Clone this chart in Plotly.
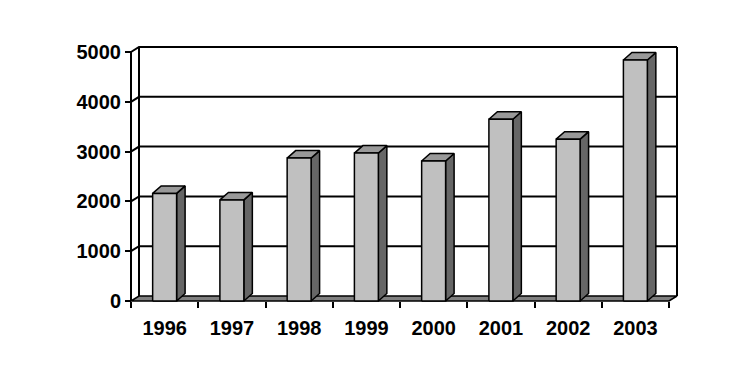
import plotly.graph_objects as go

# ---- data ----
years = ["1996", "1997", "1998", "1999", "2000", "2001", "2002", "2003"]
values = [2160, 2030, 2870, 2970, 2810, 3650, 3250, 4840]
y_ticks = [0, 1000, 2000, 3000, 4000, 5000]

# ---- geometry (in axis units) ----
n = len(years)
PX_X = 67.25          # px per category
PX_Y = 0.0498         # px per value unit
xmin, xmax = -6 / PX_X, (684 - 131) / PX_X
ymin, ymax = -4 / PX_Y, (301 - 40) / PX_Y

dxw, dyw = 8 / PX_X, 5 / PX_Y        # wall/floor depth
dxb, dyb = 8.5 / PX_X, 7.5 / PX_Y    # bar depth
hw = 0.178                            # half width of bar front
top_v = y_ticks[-1]

fig = go.Figure()

# back wall + side wall lines
wx, wy = [], []
for v in y_ticks[1:]:
    wx += [0, dxw, n + dxw, None]
    wy += [v, v + dyw, v + dyw, None]
wx += [dxw, dxw, None, n + dxw, n + dxw, None]
wy += [dyw, top_v + dyw, None, dyw, top_v + dyw, None]
fig.add_trace(go.Scatter(x=wx, y=wy, mode="lines",
                         line=dict(color="black", width=2), hoverinfo="skip"))

# floor
fig.add_trace(go.Scatter(x=[0, n, n + dxw, dxw, 0], y=[0, 0, dyw, dyw, 0],
                         mode="lines", fill="toself", fillcolor="#808080",
                         line=dict(color="black", width=1.5), hoverinfo="skip"))

# front axis line
fig.add_trace(go.Scatter(x=[0, 0], y=[0, top_v], mode="lines",
                         line=dict(color="black", width=2), hoverinfo="skip"))

# bars
sx, sy, tx, ty, fx, fy = [], [], [], [], [], []
for i, v in enumerate(values):
    c = i + 0.5
    l, r = c - hw, c + hw
    sx += [r, r, r + dxb, r + dxb, r, None]
    sy += [0, v, v + dyb, dyb, 0, None]
    tx += [l, r, r + dxb, l + dxb, l, None]
    ty += [v, v, v + dyb, v + dyb, v, None]
    fx += [l, r, r, l, l, None]
    fy += [0, 0, v, v, 0, None]
for xs, ys, col in [(sx, sy, "#666666"), (tx, ty, "#999999"), (fx, fy, "#c0c0c0")]:
    fig.add_trace(go.Scatter(x=xs, y=ys, mode="lines", fill="toself", fillcolor=col,
                             line=dict(color="black", width=1.5), hoverinfo="skip"))

xpos = (0 - ymin) / (ymax - ymin)
ypos = (0 - xmin) / (xmax - xmin)
font = dict(family="Liberation Sans, Arial", size=20, color="black", weight="bold")

# page body has an 8px default margin, so the figure is offset by 8px
fig.update_layout(
    width=738, height=376,
    margin=dict(l=117, r=62, t=32, b=79),
    paper_bgcolor="white", plot_bgcolor="white",
    showlegend=False,
    xaxis=dict(range=[xmin, xmax], anchor="free", position=xpos,
               tickmode="array", tickvals=[i + 0.5 for i in range(n)], ticktext=years,
               ticks="outside", ticklen=9, tickcolor="rgba(0,0,0,0)",
               showgrid=False, zeroline=False, showline=False, tickfont=font),
    xaxis2=dict(range=[xmin, xmax], overlaying="x", anchor="free", position=xpos,
                side="bottom", tickmode="array", tickvals=list(range(n + 1)),
                ticks="outside", ticklen=6, tickwidth=2, tickcolor="black",
                showticklabels=False, showgrid=False, zeroline=False, showline=False),
    yaxis=dict(range=[ymin, ymax], anchor="free", position=ypos,
               tickmode="array", tickvals=y_ticks,
               ticks="outside", ticklen=6, tickwidth=2, tickcolor="black",
               showgrid=False, zeroline=False, showline=False, tickfont=font),
)
# dummy trace so xaxis2 is shown
fig.add_trace(go.Scatter(x=[None], y=[None], xaxis="x2", hoverinfo="skip"))

fig.write_html("out.html")
